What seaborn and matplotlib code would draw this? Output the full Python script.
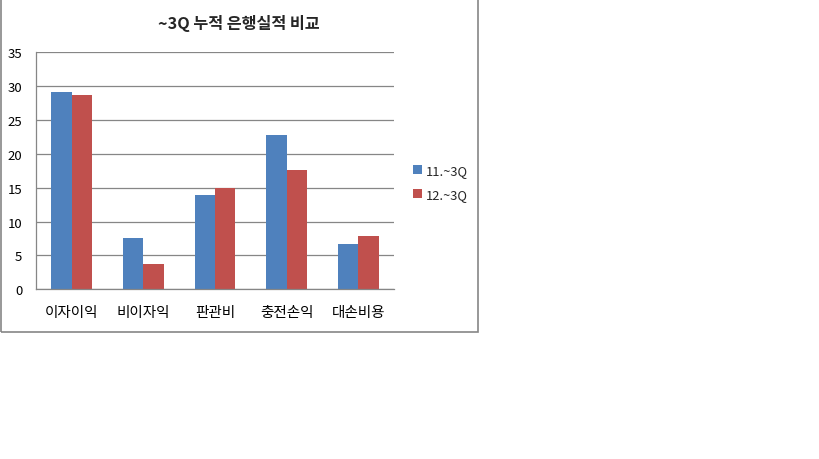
import pandas as pd
import seaborn as sns
from matplotlib import pyplot as plt
from matplotlib.patches import Rectangle

# data
categories = ['이자이익', '비이자익', '판관비', '충전손익', '대손비용']
series_names = ['11.~3Q', '12.~3Q']
values_11 = [29.1, 7.6, 13.9, 22.8, 6.7]
values_12 = [28.7, 3.7, 14.9, 17.6, 7.9]
y_ticks = [0, 5, 10, 15, 20, 25, 30, 35]

df = pd.DataFrame({
    'item': categories * 2,
    'series': [series_names[0]] * len(categories) + [series_names[1]] * len(categories),
    'value': values_11 + values_12,
})

sns.set_theme(style='white')
plt.rcParams['font.family'] = ['Noto Sans CJK KR', 'DejaVu Sans']

fig = plt.figure(figsize=(8.19, 4.60), dpi=100)
ax = fig.add_axes([0.044, 0.369, 0.437, 0.515])

sns.barplot(data=df, x='item', y='value', hue='series',
            palette=['#4F81BD', '#C0504D'], width=0.572,
            saturation=1, linewidth=0, ax=ax)

ax.set_ylim(0, 35)
ax.set_xlim(-0.5, len(categories) - 0.5)
ax.set_yticks(y_ticks)
ax.yaxis.grid(True, color='#868686', linewidth=0.9)
ax.set_axisbelow(True)
ax.tick_params(axis='both', length=0, colors='black')
ax.tick_params(axis='y', pad=10, labelsize=9.5)
ax.tick_params(axis='x', pad=11, labelsize=10.5)
ax.set_xlabel('')
ax.set_ylabel('')

for side in ['top', 'right']:
    ax.spines[side].set_visible(False)
for side in ['left', 'bottom']:
    ax.spines[side].set_color('#868686')
    ax.spines[side].set_linewidth(0.9)

ax.legend(loc='center left', bbox_to_anchor=(1.02, 0.45), frameon=False,
          fontsize=9.3, handlelength=0.7, handleheight=0.7, handletextpad=0.3,
          labelspacing=0.85)

fig.text(0.292, 0.95, '~3Q 누적 은행실적 비교', ha='center', va='center',
         fontsize=11.7, fontweight='bold')

# outer chart frame
fig.patches.append(Rectangle((0.0015, 0.276), 0.582, 0.73, transform=fig.transFigure,
                             fill=False, edgecolor='#868686', linewidth=1.2))

fig.savefig('out.png', dpi=100)
